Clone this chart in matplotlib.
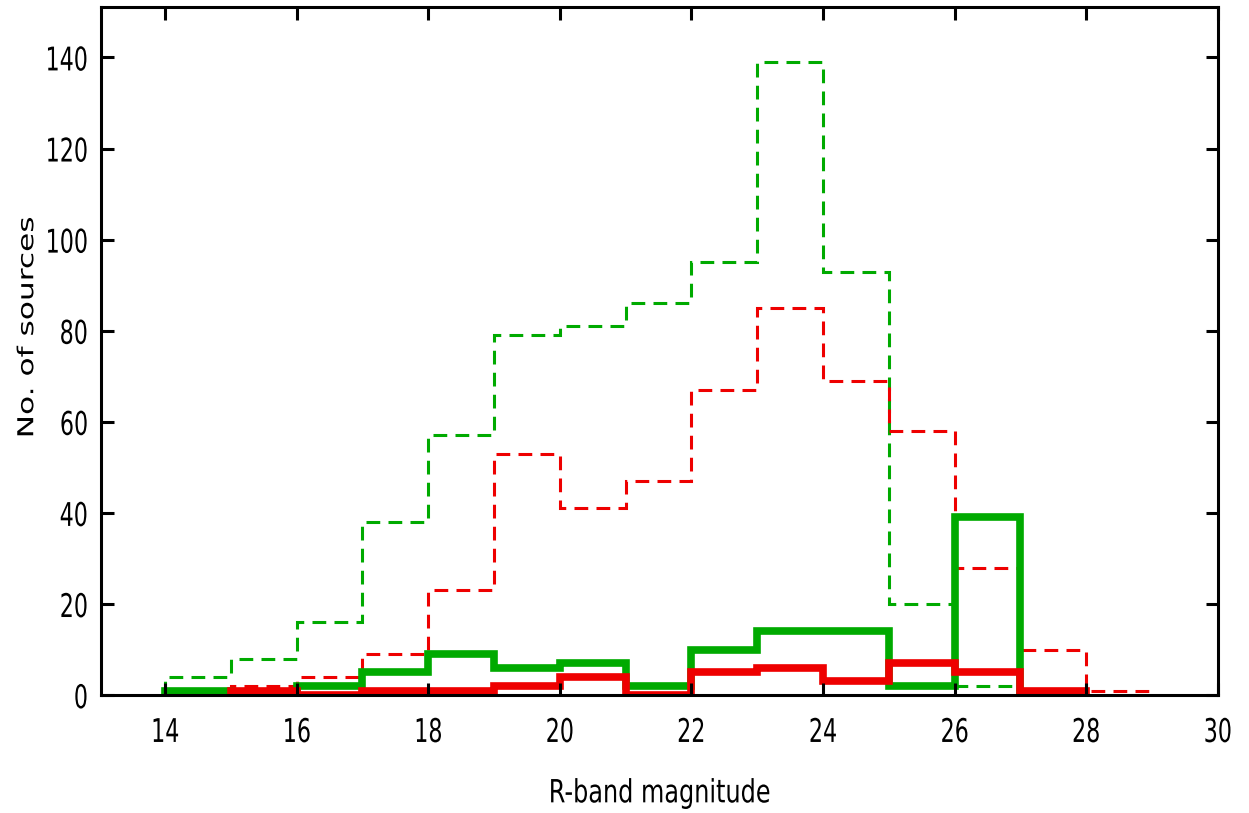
import matplotlib
matplotlib.use('Agg')
import matplotlib.pyplot as plt
from matplotlib.patheffects import AbstractPathEffect
from matplotlib.transforms import Affine2D
import numpy as np

# R-band magnitude histograms, 1 mag bins; each list starts at its first bin edge
green_dashed_start = 14
green_dashed = [4, 8, 16, 38, 57, 79, 81, 86, 95, 139, 93, 20, 2]
red_dashed_start = 15
red_dashed = [2, 4, 9, 23, 53, 41, 47, 67, 85, 69, 58, 28, 10, 1]

green_solid_start = 14
green_solid = [1, 0, 2, 5, 9, 6, 7, 2, 10, 14, 14, 2, 39]
red_solid_start = 15
red_solid = [1, 0, 1, 1, 2, 4, 0, 5, 6, 3, 7, 5, 1]

x_ticks = list(range(14, 31, 2))
y_ticks = list(range(0, 141, 20))

GREEN = '#00aa00'
RED = '#ee0000'


class Squeeze(AbstractPathEffect):
    """squeeze the text glyphs (reference picture is horizontally compressed)"""
    def __init__(self, sx=1.0, sy=1.0, anchor='center'):
        super().__init__()
        self.sx, self.sy, self.anchor = sx, sy, anchor

    def draw_path(self, renderer, gc, tpath, affine, rgbFace=None):
        ext = tpath.get_extents()
        if self.anchor == 'right':
            cx = ext.x1
        else:
            cx = (ext.x0 + ext.x1) / 2
        t = Affine2D().translate(-cx, 0).scale(self.sx, self.sy).translate(cx, 0)
        renderer.draw_path(gc, tpath, t + affine, rgbFace)


def edges_for(start, values):
    return np.arange(start, start + len(values) + 1)


fig = plt.figure(figsize=(12.49, 8.13), dpi=100)
ax = fig.add_axes([0.081, 0.145, 0.894, 0.846])

dash = (0, (4.5, 2.7))
ax.stairs(green_dashed, edges_for(green_dashed_start, green_dashed), color=GREEN, lw=2.2, ls=dash, baseline=0)
ax.stairs(red_dashed, edges_for(red_dashed_start, red_dashed), color=RED, lw=2.2, ls=dash, baseline=0)
ax.stairs(green_solid, edges_for(green_solid_start, green_solid), color=GREEN, lw=5.5, baseline=0)
ax.stairs(red_solid, edges_for(red_solid_start, red_solid), color=RED, lw=5.5, baseline=0)

ax.set_xlim(13.03, 30)
ax.set_ylim(0, 151)
ax.set_xticks(x_ticks)
ax.set_yticks(y_ticks)

for s in ax.spines.values():
    s.set_linewidth(2.2)
ax.tick_params(direction='in', length=9, width=2.2, top=True, right=True, labelsize=23.5)
ax.tick_params(axis='x', pad=15)
ax.tick_params(axis='y', pad=9)

for lab in ax.get_xticklabels():
    lab.set_path_effects([Squeeze(sx=0.68)])
for lab in ax.get_yticklabels():
    lab.set_path_effects([Squeeze(sx=0.68, anchor='right')])

ax.set_xlabel('R-band magnitude', fontsize=23, va='top',
              path_effects=[Squeeze(sx=0.75)])
ax.xaxis.set_label_coords(0.5, -0.121)
ax.set_ylabel('No. of sources', fontsize=22.5,
              path_effects=[Squeeze(sy=0.7)])
ax.yaxis.set_label_coords(-0.0555, 0.535)

fig.savefig('out.png', dpi=100)
